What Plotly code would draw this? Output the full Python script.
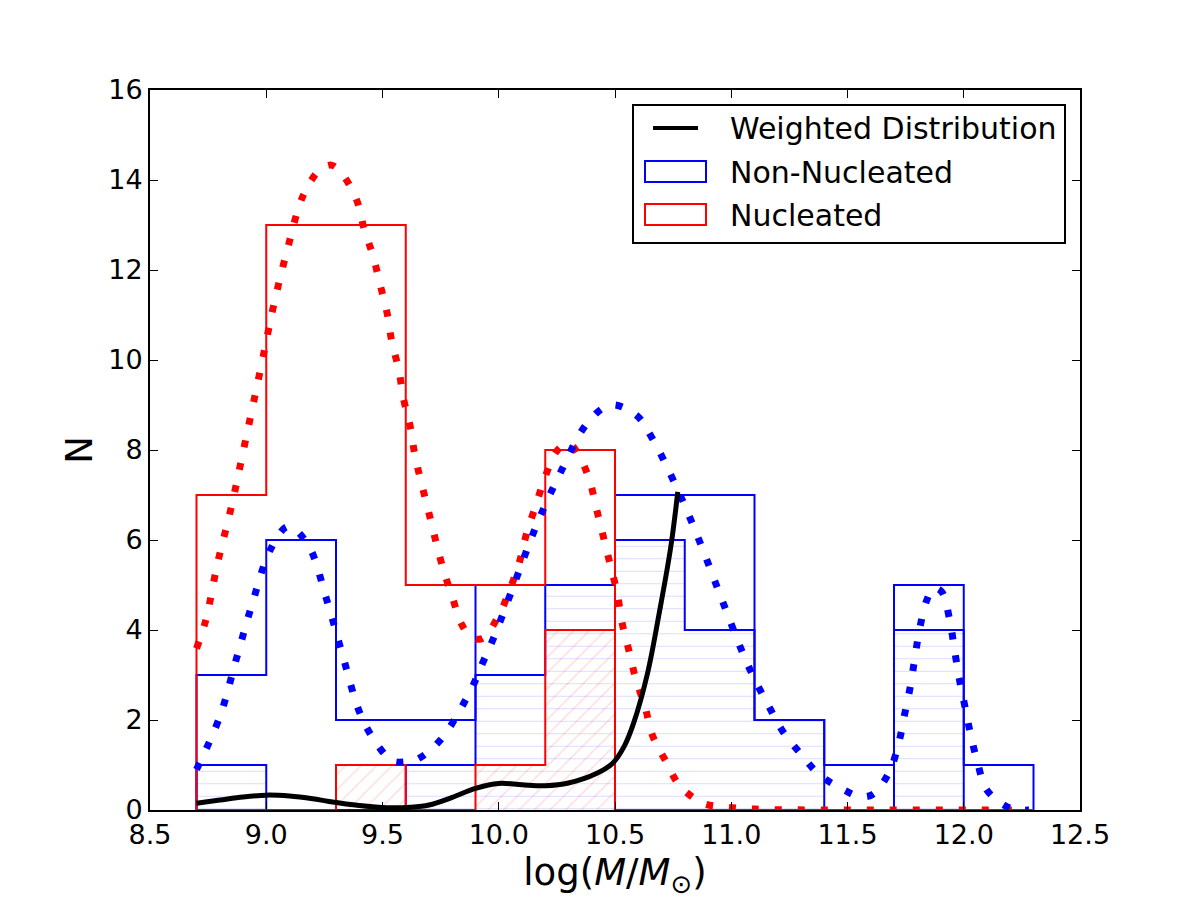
import plotly.graph_objects as go

# ---------------- data ----------------
bin_left = [8.7, 9.0, 9.3, 9.6, 9.9, 10.2, 10.5, 10.8, 11.1, 11.4, 11.7, 12.0]
bin_width = 0.3

non_nucleated = [3, 6, 2, 2, 5, 5, 7, 7, 2, 1, 5, 1]
non_nucleated_sub = [1, 0, 0, 1, 3, 5, 6, 4, 2, 0, 4, 0]
nucleated = [7, 13, 13, 5, 5, 8, 0, 0, 0, 0, 0, 0]
nucleated_sub = [0, 0, 1, 0, 1, 4, 0, 0, 0, 0, 0, 0]

# weighted distribution
w_x = [8.70, 8.80, 8.90, 9.00, 9.10, 9.20, 9.27, 9.40, 9.52, 9.62, 9.70, 9.80,
       9.90, 10.00, 10.10, 10.20, 10.30, 10.42, 10.49, 10.54, 10.58, 10.64,
       10.69, 10.74, 10.77]
w_y = [0.15, 0.22, 0.29, 0.33, 0.31, 0.25, 0.19, 0.10, 0.05, 0.06, 0.11, 0.28,
       0.48, 0.59, 0.56, 0.54, 0.60, 0.81, 1.04, 1.42, 1.93, 3.04,
       4.37, 5.85, 7.07]

# Gaussian-fit curve of nucleated sample
red_x = [8.70, 8.74, 8.79, 8.85, 8.90, 8.98, 9.03, 9.09, 9.16, 9.23, 9.28, 9.33,
         9.39, 9.42, 9.46, 9.49, 9.52, 9.54, 9.57, 9.59, 9.62, 9.64, 9.70, 9.76,
         9.80, 9.84, 9.88, 9.93, 10.00, 10.05, 10.09, 10.12, 10.16, 10.20, 10.25,
         10.30, 10.34, 10.39, 10.42, 10.45, 10.48, 10.51, 10.53, 10.56, 10.59,
         10.63, 10.66, 10.72, 10.78, 10.88, 10.97, 11.10, 11.40, 11.80, 12.28]
red_y = [3.59, 4.22, 5.47, 6.74, 7.95, 9.91, 11.17, 12.44, 13.67, 14.22, 14.33, 14.11,
         13.54, 12.93, 12.30, 11.67, 11.04, 10.41, 9.78, 9.15, 8.50, 7.87, 6.59, 5.37,
         4.74, 4.13, 3.85, 3.81, 4.33, 4.93, 5.53, 6.15, 6.78, 7.41, 7.98,
         8.15, 7.93, 7.33, 6.70, 6.07, 5.44, 4.81, 4.17, 3.54, 2.90,
         2.28, 1.67, 1.07, 0.53, 0.15, 0.07, 0.02, 0.0, 0.0, 0.0]

# Gaussian-fit curve of non-nucleated sample
blue_x = [8.70, 8.80, 8.87, 8.94, 9.02, 9.095, 9.18, 9.26, 9.33, 9.40, 9.46, 9.54,
          9.60, 9.65, 9.75, 9.88, 9.93, 9.98, 10.07, 10.16, 10.26, 10.38, 10.48,
          10.59, 10.66, 10.77, 10.87, 10.96, 11.05, 11.10, 11.16, 11.22, 11.30,
          11.38, 11.49, 11.55, 11.61, 11.68, 11.72, 11.745, 11.77, 11.79, 11.81,
          11.84, 11.87, 11.905, 11.94, 11.96, 11.98, 12.005, 12.03, 12.06, 12.10,
          12.20, 12.28]
blue_y = [0.90, 2.07, 3.33, 4.59, 5.81, 6.30, 5.89, 4.67, 3.41, 2.19, 1.59, 1.10,
          1.07, 1.13, 1.56, 2.67, 3.26, 3.85, 5.07, 6.30, 7.44, 8.59, 9.00,
          8.78, 8.26, 7.11, 5.89, 4.67, 3.48, 2.91, 2.32, 1.76, 1.24,
          0.78, 0.43, 0.30, 0.35, 0.85, 1.48, 2.11, 2.74, 3.39, 4.02,
          4.65, 4.93, 4.85, 4.21, 3.57, 2.94, 2.30, 1.67, 1.04, 0.44,
          0.04, 0.0]

x_ticks = [8.5, 9.0, 9.5, 10.0, 10.5, 11.0, 11.5, 12.0, 12.5]
y_ticks = [0, 2, 4, 6, 8, 10, 12, 14, 16]

legend_labels = ["Weighted Distribution", "Non-Nucleated", "Nucleated"]

# ---------------- figure ----------------
FONT = "DejaVu Sans"
BLUE = "#0000ff"
RED = "#ff0000"
CLEAR = "rgba(0,0,0,0)"

fig = go.Figure()

# hatched fills (no outline; outlines drawn as step lines below)
fig.add_trace(go.Bar(x=bin_left, y=non_nucleated_sub, width=bin_width, offset=0,
                     showlegend=False, hoverinfo="skip",
                     marker=dict(color=CLEAR, line=dict(width=0),
                                 pattern=dict(shape="-", fgcolor="rgba(0,0,255,0.28)",
                                              bgcolor=CLEAR, size=12.5, solidity=0.08,
                                              fillmode="overlay"))))
fig.add_trace(go.Bar(x=bin_left, y=nucleated_sub, width=bin_width, offset=0,
                     showlegend=False, hoverinfo="skip",
                     marker=dict(color=CLEAR, line=dict(width=0),
                                 pattern=dict(shape="/", fgcolor="rgba(255,0,0,0.35)",
                                              bgcolor=CLEAR, size=11, solidity=0.1,
                                              fillmode="overlay"))))


def step_outline(counts, color, name):
    xs = [bin_left[0]] + bin_left + [bin_left[-1] + bin_width] * 2
    ys = [0] + counts + [counts[-1], 0]
    fig.add_trace(go.Scatter(x=xs, y=ys, mode="lines", name=name, showlegend=False,
                             hoverinfo="skip",
                             line=dict(color=color, width=2, shape="hv")))


step_outline(non_nucleated, BLUE, "Non-Nucleated")
step_outline(non_nucleated_sub, BLUE, "Non-Nucleated subset")
step_outline(nucleated_sub, RED, "Nucleated subset")
step_outline(nucleated, RED, "Nucleated")


def fit_curve(xs, ys, color, name):
    # thick square-dotted Gaussian fit
    fig.add_trace(go.Scatter(x=xs, y=ys, mode="lines", name=name, showlegend=False,
                             hoverinfo="skip",
                             line=dict(color=color, width=7, shape="spline", smoothing=1.0,
                                       simplify=False, dash="7px,16px")))


fit_curve(red_x, red_y, RED, "Nucleated fit")
fit_curve(blue_x, blue_y, BLUE, "Non-Nucleated fit")

fig.add_trace(go.Scatter(x=w_x, y=w_y, mode="lines", name="Weighted Distribution",
                         showlegend=False, hoverinfo="skip",
                         line=dict(color="black", width=5, shape="spline", smoothing=1.0)))

axis_common = dict(showline=True, linecolor="black", linewidth=2, mirror="ticks",
                   ticks="inside", ticklen=8, tickwidth=1, tickcolor="black",
                   showgrid=False, zeroline=False,
                   tickfont=dict(family=FONT, size=27, color="black"))

fig.update_xaxes(range=[8.5, 12.5], tickvals=x_ticks,
                 ticktext=[f"{v:.1f}" for v in x_ticks],
                 title=dict(text="log(<i>M</i>/<i>M</i><sub>⊙</sub>)",
                            font=dict(family=FONT, size=37, color="black"), standoff=10),
                 **axis_common)
fig.update_yaxes(range=[0, 16], tickvals=y_ticks,
                 title=dict(text="N", font=dict(family=FONT, size=37, color="black"),
                            standoff=4),
                 **axis_common)

# ---- legend drawn as a framed box (matplotlib style) ----
L, T, W, H = 150, 90, 930, 720  # plot area in pixels


def px(xp):
    return (xp - L) / W


def py(yp):
    return (T + H - yp) / H


shapes = [
    dict(type="rect", xref="paper", yref="paper", x0=px(633), x1=px(1065),
         y0=py(243), y1=py(105), line=dict(color="black", width=2), fillcolor="white",
         layer="above"),
    dict(type="line", xref="paper", yref="paper", x0=px(653), x1=px(698),
         y0=py(128), y1=py(128), line=dict(color="black", width=4), layer="above"),
    dict(type="rect", xref="paper", yref="paper", x0=px(645), x1=px(706),
         y0=py(182), y1=py(161), line=dict(color=BLUE, width=2), layer="above"),
    dict(type="rect", xref="paper", yref="paper", x0=px(645), x1=px(706),
         y0=py(225), y1=py(204), line=dict(color=RED, width=2), layer="above"),
]
annotations = []
for lab, yc in zip(legend_labels, [128, 172, 215]):
    annotations.append(dict(text=lab, xref="paper", yref="paper", x=px(728), y=py(yc),
                            xanchor="left", yanchor="middle", showarrow=False,
                            font=dict(family=FONT, size=30, color="black")))

fig.update_layout(
    width=1200, height=900,
    margin=dict(l=L, r=1200 - L - W, t=T, b=900 - T - H),
    paper_bgcolor="white", plot_bgcolor="white",
    barmode="overlay", bargap=0,
    font=dict(family=FONT, color="black"),
    showlegend=False,
    shapes=shapes, annotations=annotations,
)

fig.write_html("out.html")
